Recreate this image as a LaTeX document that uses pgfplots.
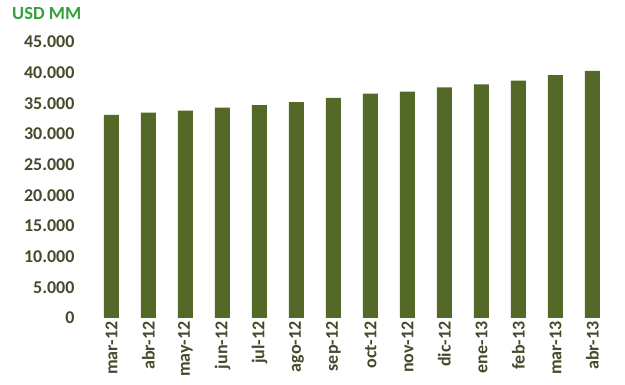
\documentclass[border=0pt]{standalone}
\usepackage{pgfplots}
\pgfplotsset{compat=1.18}
\usepackage{fontspec}
\setmainfont{Carlito}
\definecolor{barc}{RGB}{84,104,40}
\definecolor{tickc}{RGB}{72,72,44}
\definecolor{usdc}{RGB}{52,160,60}
\begin{document}
\begin{tikzpicture}
\path[use as bounding box] (-93pt,-67pt) rectangle (532pt,318pt);
\begin{axis}[
  at={(0,0)}, anchor=south west,
  scale only axis, width=518pt, height=276pt,
  xmin=-0.5, xmax=13.5, ymin=0, ymax=45000,
  ytick={0,5000,...,45000},
  xtick={0,...,13},
  xticklabels={mar-12,abr-12,may-12,jun-12,jul-12,ago-12,sep-12,oct-12,nov-12,dic-12,ene-13,feb-13,mar-13,abr-13},
  axis line style={draw=none},
  major tick length=0pt,
  tick style={draw=none},
  /pgf/number format/.cd, 1000 sep={.}, assume math mode=true, /pgfplots/.cd,
  scaled y ticks=false,
  yticklabel style={font=\fontsize{18}{20}\selectfont\bfseries, text=tickc, anchor=east, xshift=-15pt},
  xticklabel style={font=\fontsize{18}{20}\selectfont\bfseries, text=tickc, rotate=90, anchor=east, yshift=0pt},
  ybar, bar width=15pt,
]
\addplot[fill=barc, draw=none] coordinates {
(0,33100) (1,33500) (2,33800) (3,34300) (4,34700) (5,35200) (6,35900)
(7,36600) (8,36900) (9,37600) (10,38100) (11,38700) (12,39600) (13,40300)};
\end{axis}
\node[anchor=west, text=usdc, font=\fontsize{18.5}{20}\selectfont\bfseries, inner sep=0pt] at (-81pt,304pt) {USD MM};
\end{tikzpicture}
\end{document}
